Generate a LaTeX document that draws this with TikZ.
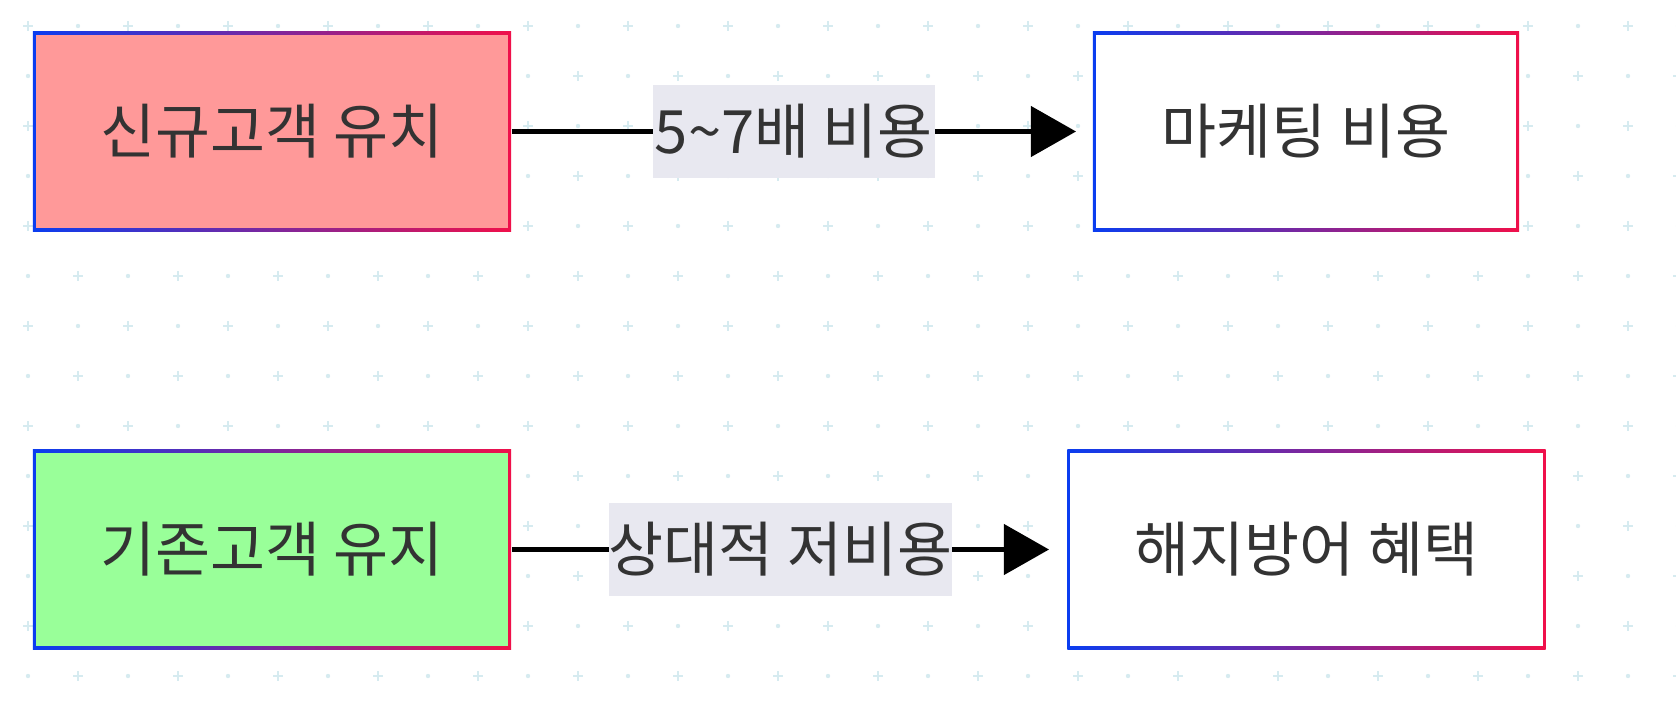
\documentclass[tikz,border=0pt]{standalone}
\usepackage{fontspec}
\setmainfont{Noto Sans CJK KR}
\usetikzlibrary{positioning,arrows.meta}
\definecolor{gBlue}{HTML}{0A3DF0}
\definecolor{gRed}{HTML}{F0104A}
\definecolor{gridCol}{HTML}{D6EBF0}
\definecolor{lblBg}{HTML}{E8E8F0}
\definecolor{txtCol}{HTML}{333333}
\tikzset{
  frame/.style={shade, left color=gBlue, right color=gRed, minimum width=4.78cm, minimum height=1.99cm, inner sep=0},
  inner/.style={minimum width=4.72cm, minimum height=1.93cm, inner sep=0, text=txtCol, font=\fontsize{17}{20}\selectfont},
  lbl/.style={fill=lblBg, text=txtCol, inner sep=0, minimum height=0.92cm, font=\fontsize{17}{20}\selectfont},
  conn/.style={line width=1.2pt, -{Triangle[length=0.45cm, width=0.5cm]}}
}
\begin{document}
\begin{tikzpicture}[x=0.01cm, y=-0.01cm]
\useasboundingbox (0,0) rectangle (1676,718);
% background grid
\foreach \i in {0,...,33} {
  \foreach \j in {0,...,14} {
    \pgfmathtruncatemacro{\k}{mod(\i+\j,2)}
    \ifnum\k=0
      \draw[gridCol, line width=0.8pt] (28+\i*50-5,26+\j*50) -- ++(10,0) (28+\i*50,26+\j*50-5) -- ++(0,10);
    \else
      \fill[gridCol] (28+\i*50,26+\j*50) circle (2.2);
    \fi
  }
}
% boxes
\node[frame] (newF) at (272,131.5) {};
\node[inner, fill={rgb,255:red,255;green,153;blue,153}] (new) at (272,131.5) {신규고객 유치};
\node[frame, minimum width=4.26cm] (mktF) at (1306,131.5) {};
\node[inner, fill=white, minimum width=4.20cm] (mkt) at (1306,131.5) {마케팅 비용};
\node[frame] (oldF) at (272,549.5) {};
\node[inner, fill={rgb,255:red,153;green,255;blue,153}] (old) at (272,549.5) {기존고객 유지};
\node[frame] (churnF) at (1306.5,549.5) {};
\node[inner, fill=white] (churn) at (1306.5,549.5) {해지방어 혜택};
% connectors
\coordinate (mktIn) at (1076,131.5);
\coordinate (churnIn) at (1049,549.5);
\draw[conn] (newF.east) -- node[lbl, minimum width=2.81cm] {5\textasciitilde7배 비용} (mktIn);
\draw[conn] (oldF.east) -- node[lbl, minimum width=3.37cm] {상대적 저비용} (churnIn);
\end{tikzpicture}
\end{document}
